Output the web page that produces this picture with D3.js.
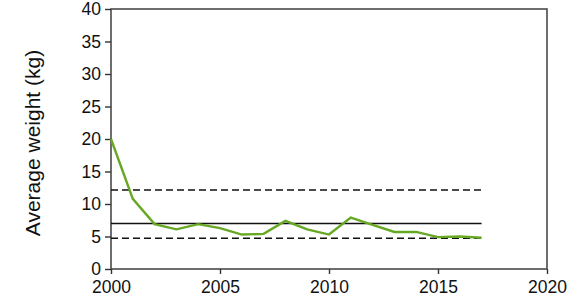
<!DOCTYPE html>
<html><head><meta charset="utf-8">
<script src="https://cdn.jsdelivr.net/npm/d3@7"></script>
<style>body{margin:0;background:#fff}svg{display:block}</style>
</head><body>
<script>
const years = [2000,2001,2002,2003,2004,2005,2006,2007,2008,2009,2010,2011,2012,2013,2014,2015,2016,2017];
const weights = [20.0,10.8,6.9,6.1,6.9,6.3,5.3,5.4,7.4,6.1,5.3,7.9,6.8,5.7,5.7,4.9,5.0,4.8];
const meanLine = 7.0;
const upperLine = 12.15;
const lowerLine = 4.75;
const xTicks = [2000,2005,2010,2015,2020];
const yTicks = [0,5,10,15,20,25,30,35,40];
const yLabel = "Average weight (kg)";

const W = 571, H = 302;
const m = {left:111, top:9, right:24, bottom:33};
const svg = d3.select("body").append("svg").attr("width", W).attr("height", H);
const x = d3.scaleLinear().domain([2000,2020]).range([m.left, W - m.right]);
const y = d3.scaleLinear().domain([0,40]).range([H - m.bottom, m.top]);
const font = "Liberation Sans, Arial, sans-serif";

// frame
svg.append("rect").attr("x", x(2000)).attr("y", y(40))
  .attr("width", x(2020)-x(2000)).attr("height", y(0)-y(40))
  .attr("fill","none").attr("stroke","#4a4a4a").attr("stroke-width",1.6);

const xa = svg.append("g").attr("transform",`translate(0,${y(0)})`)
  .call(d3.axisBottom(x).tickValues(xTicks).tickFormat(d3.format("d")).tickSize(5).tickPadding(7));
const ya = svg.append("g").attr("transform",`translate(${x(2000)},0)`)
  .call(d3.axisLeft(y).tickValues(yTicks).tickSize(6).tickPadding(4));
[xa, ya].forEach(g => {
  g.select(".domain").remove();
  g.selectAll("line").attr("stroke","#333").attr("stroke-width",1.4);
  g.selectAll("text").attr("font-family", font).attr("font-size", 17.5).attr("fill","#111");
});

// reference lines
const x0 = x(years[0]), x1 = x(years[years.length-1]);
svg.append("line").attr("x1",x0).attr("x2",x1).attr("y1",y(upperLine)).attr("y2",y(upperLine))
  .attr("stroke","#111").attr("stroke-width",1.5).attr("stroke-dasharray","7,4");
svg.append("line").attr("x1",x0).attr("x2",x1).attr("y1",y(lowerLine)).attr("y2",y(lowerLine))
  .attr("stroke","#111").attr("stroke-width",1.5).attr("stroke-dasharray","7,4");
svg.append("line").attr("x1",x0).attr("x2",x1).attr("y1",y(meanLine)).attr("y2",y(meanLine))
  .attr("stroke","#111").attr("stroke-width",1.5);

// data line
svg.append("path").datum(years.map((d,i)=>[d,weights[i]]))
  .attr("fill","none").attr("stroke","#66a823").attr("stroke-width",2.4)
  .attr("d", d3.line().x(d=>x(d[0])).y(d=>y(d[1])));

svg.append("text").attr("transform",`translate(40,${(y(0)+y(40))/2+4}) rotate(-90)`)
  .attr("text-anchor","middle").attr("font-family",font).attr("font-size",21)
  .attr("fill","#111").text(yLabel);
</script>
</body></html>
